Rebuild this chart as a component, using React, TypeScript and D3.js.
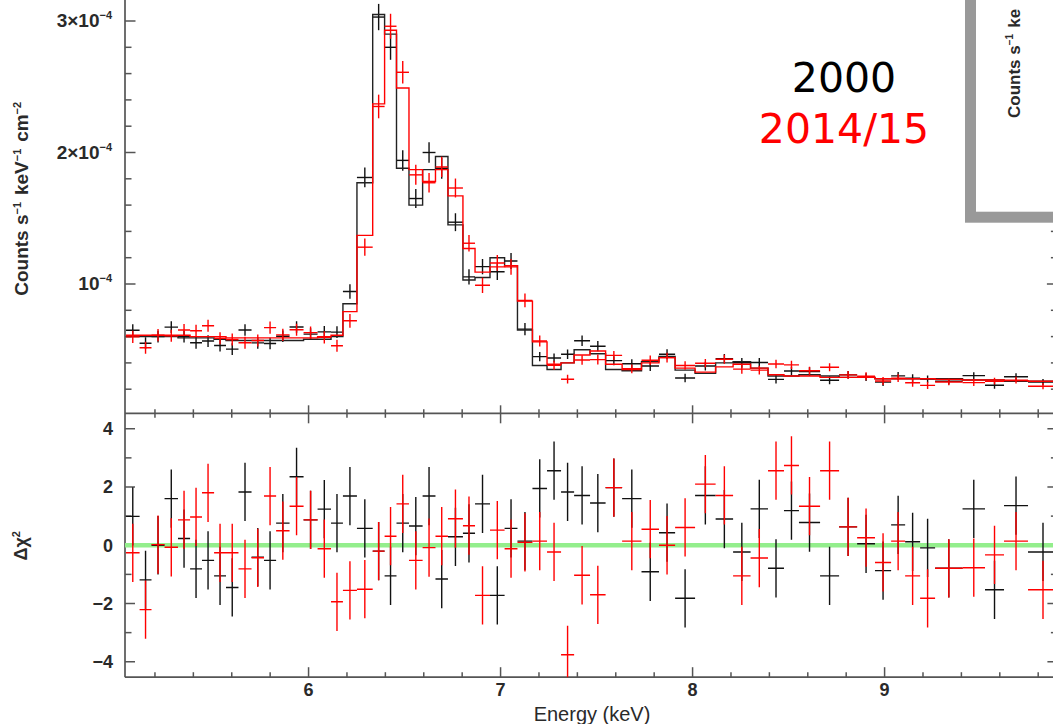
import * as d3 from 'd3'

// shared energy bin edges (keV)
const BIN_EDGES = [
  5.049, 5.120, 5.182, 5.250, 5.320, 5.383, 5.445, 5.508, 5.570, 5.635,
  5.703, 5.768, 5.831, 5.901, 5.974, 6.047, 6.117, 6.179, 6.252, 6.334,
  6.396, 6.458, 6.523, 6.594, 6.661, 6.726, 6.804, 6.867, 6.945, 7.021,
  7.088, 7.166, 7.242, 7.315, 7.383, 7.466, 7.547, 7.633, 7.734, 7.825,
  7.909, 8.013, 8.120, 8.211, 8.302, 8.393, 8.476, 8.554, 8.664, 8.763,
  8.857, 8.950, 9.034, 9.107, 9.185, 9.263, 9.406, 9.523, 9.622, 9.747,
  9.903
]

// 2000 (black) -- flux in units of 1e-4 counts/s/keV/cm2
const BLACK_MODEL = [
  0.60, 0.60, 0.60, 0.60, 0.59, 0.59, 0.59, 0.58, 0.57, 0.57,
  0.57, 0.57, 0.57, 0.57, 0.58, 0.58, 0.60, 0.85, 1.77, 3.05,
  2.90, 1.88, 1.60, 1.87, 1.97, 1.45, 1.03, 1.05, 1.20, 1.14,
  0.65, 0.38, 0.35, 0.40, 0.50, 0.47, 0.35, 0.34, 0.41, 0.45,
  0.345, 0.32, 0.40, 0.41, 0.36, 0.30, 0.30, 0.31, 0.30, 0.29,
  0.29, 0.28, 0.28, 0.28, 0.28, 0.28, 0.27, 0.27, 0.26, 0.26
]
const BLACK_DATA = [
  0.648, 0.550, 0.600, 0.672, 0.600, 0.553, 0.566, 0.532, 0.505, 0.650,
  0.552, 0.547, 0.603, 0.673, 0.619, 0.636, 0.634, 0.943, 1.81, 3.03,
  2.80, 1.94, 1.65, 2.00, 1.88, 1.47, 1.054, 1.132, 1.093, 1.175,
  0.657, 0.448, 0.437, 0.466, 0.568, 0.527, 0.417, 0.394, 0.376, 0.466,
  0.285, 0.376, 0.432, 0.401, 0.403, 0.275, 0.338, 0.335, 0.268, 0.309,
  0.292, 0.254, 0.301, 0.284, 0.277, 0.260, 0.303, 0.230, 0.295, 0.254
]
const BLACK_ERR = [
  0.045, 0.045, 0.045, 0.045, 0.045, 0.045, 0.045, 0.045, 0.044, 0.044,
  0.044, 0.044, 0.044, 0.044, 0.045, 0.045, 0.045, 0.055, 0.075, 0.10,
  0.095, 0.078, 0.072, 0.078, 0.08, 0.068, 0.058, 0.058, 0.062, 0.06,
  0.047, 0.035, 0.034, 0.036, 0.04, 0.039, 0.034, 0.034, 0.037, 0.038,
  0.033, 0.033, 0.036, 0.037, 0.034, 0.032, 0.032, 0.032, 0.03, 0.03,
  0.03, 0.03, 0.03, 0.03, 0.028, 0.025, 0.026, 0.026, 0.026, 0.024
]
const BLACK_RESID = [
  0.99, -1.19, 0.0, 1.6, 0.23, -0.81, -0.52, -1.05, -1.45, 1.83,
  -0.41, -0.52, 0.76, 2.35, 0.87, 1.24, 0.76, 1.69, 0.58, -0.2,
  -1.05, 0.76, 0.66, 1.69, -1.16, 0.29, 0.41, 1.42, -1.72, 0.58,
  0.14, 1.95, 2.56, 1.83, 1.71, 1.45, 1.98, 1.6, -0.91, 0.43,
  -1.82, 1.71, 0.9, -0.23, 1.25, -0.79, 1.19, 0.78, -1.05, 0.63,
  0.05, -0.87, 0.7, 0.12, -0.09, -0.79, 1.25, -1.53, 1.36, -0.23
]

// 2014/15 (red)
const RED_MODEL = [
  0.61, 0.61, 0.61, 0.61, 0.61, 0.60, 0.60, 0.60, 0.59, 0.59,
  0.59, 0.59, 0.59, 0.59, 0.59, 0.60, 0.61, 0.79, 1.37, 2.37,
  2.93, 2.49, 1.87, 1.78, 1.87, 1.67, 1.27, 1.09, 1.13, 1.14,
  0.87, 0.56, 0.39, 0.40, 0.46, 0.49, 0.39, 0.35, 0.40, 0.44,
  0.36, 0.33, 0.37, 0.39, 0.36, 0.31, 0.30, 0.30, 0.29, 0.29,
  0.29, 0.28, 0.28, 0.28, 0.28, 0.275, 0.27, 0.27, 0.265, 0.26
]
const RED_DATA = [
  0.598, 0.515, 0.611, 0.607, 0.650, 0.645, 0.683, 0.588, 0.578, 0.553,
  0.570, 0.668, 0.613, 0.652, 0.630, 0.594, 0.530, 0.72, 1.28, 2.35,
  2.96, 2.61, 1.83, 1.77, 1.89, 1.73, 1.31, 0.99, 1.16, 1.13,
  0.875, 0.566, 0.382, 0.276, 0.422, 0.425, 0.457, 0.355, 0.42, 0.44,
  0.38, 0.397, 0.428, 0.353, 0.345, 0.392, 0.385, 0.34, 0.367, 0.309,
  0.298, 0.262, 0.284, 0.249, 0.229, 0.255, 0.25, 0.261, 0.269, 0.223
]
const RED_ERR = [
  0.046, 0.046, 0.046, 0.046, 0.046, 0.046, 0.046, 0.046, 0.046, 0.046,
  0.046, 0.046, 0.046, 0.046, 0.046, 0.046, 0.046, 0.052, 0.066, 0.09,
  0.095, 0.085, 0.076, 0.075, 0.077, 0.072, 0.062, 0.058, 0.06, 0.06,
  0.052, 0.042, 0.035, 0.033, 0.037, 0.038, 0.034, 0.033, 0.036, 0.037,
  0.033, 0.032, 0.034, 0.035, 0.033, 0.032, 0.031, 0.03, 0.03, 0.03,
  0.03, 0.03, 0.03, 0.03, 0.028, 0.025, 0.026, 0.026, 0.026, 0.024
]
const RED_RESID = [
  -0.26, -2.21, 0.02, -0.07, 0.87, 0.97, 1.8, -0.26, -0.26, -0.81,
  -0.43, 1.69, 0.5, 1.34, 0.87, -0.12, -1.94, -1.55, -1.51, -0.2,
  0.31, 1.42, -0.52, -0.08, 0.31, 0.91, 0.67, -1.72, 0.52, -0.12,
  0.1, 0.14, -0.23, -3.76, -1.03, -1.7, 1.98, 0.14, 0.55, 0.0,
  0.61, 2.1, 1.71, -1.05, -0.44, 2.56, 2.74, 1.34, 2.56, 0.63,
  0.26, -0.59, 0.14, -1.05, -1.82, -0.79, -0.77, -0.33, 0.14, -1.53
]

const X_TICKS = [6, 7, 8, 9]
const TOP_TICKS = [1, 2, 3]
const TOP_TICK_PREFIX = ['', '2×', '3×']
const RES_TICKS = [-4, -2, 0, 2, 4]
const RES_MINOR = [-3, -1, 1, 3]

const W = 1053
const H = 724
const LEFT = 125
const RIGHT = 1057.4
const SPLIT = 413.3
const BOTTOM = 677.2
const AXIS = '#555'
const LABEL = '#2a2a2a'
const FONT = 'Liberation Sans, Arial, sans-serif'

const x = d3.scaleLinear().domain([5.044, 9.9]).range([LEFT, RIGHT])
const yTop = d3.scaleLinear().domain([0, 3]).range([415.5, 21])
const yRes = d3.scaleLinear().domain([-4.53, 4.53]).range([BOTTOM, SPLIT])

const xMinor = d3.range(26, 50).map(k => k / 5).filter(v => !X_TICKS.includes(v))
const topMinor = d3.range(1, 17).map(k => k / 5).filter(v => !TOP_TICKS.includes(v))

function stepPath(model, y) {
  const pts = model.map((m, i) => [BIN_EDGES[i], m])
  pts.push([BIN_EDGES[model.length], model[model.length - 1]])
  return d3.line().curve(d3.curveStepAfter).x(d => x(d[0])).y(d => y(d[1]))(pts)
}

function Crosses({ values, errs, y, color }) {
  return (
    <g stroke={color} strokeWidth={1.4}>
      {values.map((v, i) => {
        const x0 = x(BIN_EDGES[i])
        const x1 = x(BIN_EDGES[i + 1])
        const xc = (x0 + x1) / 2
        const e = errs ? errs[i] : 1
        return (
          <g key={i}>
            <line x1={x0} x2={x1} y1={y(v)} y2={y(v)} />
            <line x1={xc} x2={xc} y1={y(v - e)} y2={y(v + e)} />
          </g>
        )
      })}
    </g>
  )
}

function Sup({ children, size = 11, rise = 7 }) {
  return (
    <>
      <tspan dy={-rise} fontSize={size}>{children}</tspan>
      <tspan dy={rise}>{'\u200a'}</tspan>
    </>
  )
}

export default function App() {
  return (
    <svg width={W} height={H} style={{ position: 'absolute', left: 0, top: 0, background: '#fff' }}
      fontFamily={FONT}>
      <defs>
        <clipPath id="clipTop"><rect x={LEFT} y={-30} width={RIGHT - LEFT} height={SPLIT + 30} /></clipPath>
        <clipPath id="clipRes"><rect x={LEFT} y={SPLIT} width={RIGHT - LEFT} height={BOTTOM - SPLIT} /></clipPath>
      </defs>
      <rect width={W} height={H} fill="#fff" />

      {/* frames */}
      <g stroke={AXIS} strokeWidth={1.7} fill="none">
        <line x1={LEFT} x2={LEFT} y1={-30} y2={BOTTOM} />
        <line x1={RIGHT} x2={RIGHT} y1={-30} y2={BOTTOM} />
        <line x1={LEFT} x2={RIGHT} y1={SPLIT} y2={SPLIT} />
        <line x1={LEFT} x2={RIGHT} y1={BOTTOM} y2={BOTTOM} />
      </g>

      {/* ticks */}
      <g stroke={AXIS} strokeWidth={1.5}>
        {X_TICKS.map(t => (
          <g key={t}>
            <line x1={x(t)} x2={x(t)} y1={SPLIT - 8} y2={SPLIT + 10} />
            <line x1={x(t)} x2={x(t)} y1={BOTTOM} y2={BOTTOM - 10} />
          </g>
        ))}
        {xMinor.map(t => (
          <g key={t}>
            <line x1={x(t)} x2={x(t)} y1={SPLIT - 4} y2={SPLIT + 4.5} />
            <line x1={x(t)} x2={x(t)} y1={BOTTOM} y2={BOTTOM - 5} />
          </g>
        ))}
        {TOP_TICKS.map(t => (
          <g key={t}>
            <line x1={LEFT} x2={LEFT + 10.5} y1={yTop(t)} y2={yTop(t)} />
            <line x1={RIGHT} x2={RIGHT - 10.5} y1={yTop(t)} y2={yTop(t)} />
          </g>
        ))}
        {topMinor.map(t => (
          <g key={t}>
            <line x1={LEFT} x2={LEFT + 6.5} y1={yTop(t)} y2={yTop(t)} />
            <line x1={RIGHT} x2={RIGHT - 6.5} y1={yTop(t)} y2={yTop(t)} />
          </g>
        ))}
        {RES_TICKS.map(t => (
          <g key={t}>
            <line x1={LEFT} x2={LEFT + 10} y1={yRes(t)} y2={yRes(t)} />
            <line x1={RIGHT} x2={RIGHT - 10} y1={yRes(t)} y2={yRes(t)} />
          </g>
        ))}
        {RES_MINOR.map(t => (
          <g key={t}>
            <line x1={LEFT} x2={LEFT + 6.5} y1={yRes(t)} y2={yRes(t)} />
            <line x1={RIGHT} x2={RIGHT - 6.5} y1={yRes(t)} y2={yRes(t)} />
          </g>
        ))}
      </g>

      {/* top panel: spectra */}
      <g clipPath="url(#clipTop)">
        <Crosses values={BLACK_DATA} errs={BLACK_ERR} y={yTop} color="#111" />
        <path d={stepPath(BLACK_MODEL, yTop)} fill="none" stroke="#222" strokeWidth={1.4} />
        <Crosses values={RED_DATA} errs={RED_ERR} y={yTop} color="#ff0000" />
        <path d={stepPath(RED_MODEL, yTop)} fill="none" stroke="#ff0000" strokeWidth={1.4} />
      </g>

      {/* bottom panel: residuals */}
      <g clipPath="url(#clipRes)">
        <line x1={LEFT} x2={RIGHT} y1={yRes(0)} y2={yRes(0)} stroke="#93ee8c" strokeWidth={4.5} />
        <Crosses values={BLACK_RESID} y={yRes} color="#111" />
        <Crosses values={RED_RESID} y={yRes} color="#ff0000" />
      </g>

      {/* tick labels */}
      <g fill={LABEL} fontWeight="bold">
        {TOP_TICKS.map((t, i) => (
          <text key={t} x={112} y={yTop(t) + 6} textAnchor="end" fontSize={19}>
            {TOP_TICK_PREFIX[i]}10<tspan dy={-8} fontSize={11}>−4</tspan>
          </text>
        ))}
        {RES_TICKS.map(t => (
          <text key={t} x={113} y={yRes(t) + 6.5} textAnchor="end" fontSize={18}>
            {t < 0 ? `−${-t}` : t}
          </text>
        ))}
        {X_TICKS.map(t => (
          <text key={t} x={x(t)} y={696} textAnchor="middle" fontSize={18}>{t}</text>
        ))}
      </g>

      {/* axis titles */}
      <text transform="translate(28,198) rotate(-90)" textAnchor="middle" fontSize={19}
        fontWeight="bold" fill={LABEL}>
        Counts s<Sup>−1</Sup> keV<Sup>−1</Sup> cm<Sup>−2</Sup>
      </text>
      <text transform="translate(27,545) rotate(-90)" textAnchor="middle" fontSize={18}
        fontWeight="bold" fill={LABEL}>
        Δχ<Sup>2</Sup>
      </text>
      <text x={592} y={721} textAnchor="middle" fontSize={20} fill={LABEL}>Energy (keV)</text>

      {/* inset panel, cut by the right edge */}
      <rect x={970.5} y={-20} width={120} height={237.2} fill="#fff" stroke="#999" strokeWidth={11} />
      <text transform="translate(1020,118) rotate(-90)" fontSize={17} fontWeight="bold" fill={LABEL}>
        Counts s<Sup size={10}>−1</Sup> ke
      </text>

      {/* legend text */}
      <g fontFamily="DejaVu Sans, sans-serif" fontSize={41} textAnchor="middle">
        <text x={844} y={91.7} fill="#000">2000</text>
        <text x={844} y={143.3} fill="#ff0000">2014/15</text>
      </g>
    </svg>
  )
}
